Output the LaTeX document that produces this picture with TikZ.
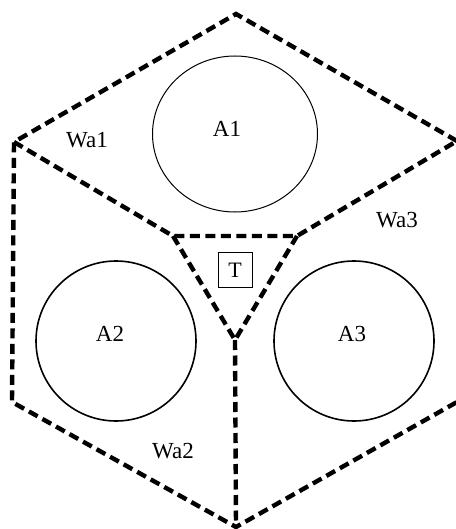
\documentclass[tikz,border=0pt]{standalone}
\usepackage{fontspec}
\setmainfont{Liberation Serif}
\usetikzlibrary{shapes.geometric}
\begin{document}
\begin{tikzpicture}[x=1pt,y=-1pt,
  wall/.style={line width=4.4pt,dash pattern=on 10pt off 5.5pt,line join=miter},
  zone/.style={draw,line width=1.6pt,circle,minimum size=160pt,inner sep=0pt},
  tag/.style={font=\fontsize{23}{26}\selectfont,inner sep=0pt},
  tbox/.style={draw,line width=0.8pt,minimum width=34pt,minimum height=35pt,font=\fontsize{22}{24}\selectfont,inner sep=0pt}]
\useasboundingbox (0,0) rectangle (455,529);
% outer hexagon corners
\coordinate (top) at (236,14);
\coordinate (ul) at (14,142);
\coordinate (ur) at (457,141);
\coordinate (ll) at (12,402);
\coordinate (bot) at (236,527);
\coordinate (lr) at (457,402);
% inner triangle corners
\coordinate (t1) at (173,236);
\coordinate (t2) at (297,236);
\coordinate (t3) at (235,340);
% walls
\draw[wall] (ur) -- (top) -- (ul) -- (ll) -- (bot) -- (lr);
\draw[wall] (ul) -- (t1) -- (t2) -- (ur);
\draw[wall] (t1) -- (t3) -- (t2);
\draw[wall] (t3) -- (bot);
% zones
\node[draw,line width=1pt,ellipse,minimum width=165pt,minimum height=156pt,inner sep=0pt] (a1) at (235,134) {};
\node[zone] (a2) at (116,341) {};
\node[zone] (a3) at (354,341) {};
\node[tag] (la1) at (227,129) {A1};
\node[tag] (la2) at (110,334) {A2};
\node[tag] (la3) at (352,334) {A3};
\node[tag] (w1) at (87,140) {Wa1};
\node[tag] (w2) at (173,451) {Wa2};
\node[tag] (w3) at (397,220) {Wa3};
\node[tbox] (t) at (235,270) {T};
\end{tikzpicture}
\end{document}
